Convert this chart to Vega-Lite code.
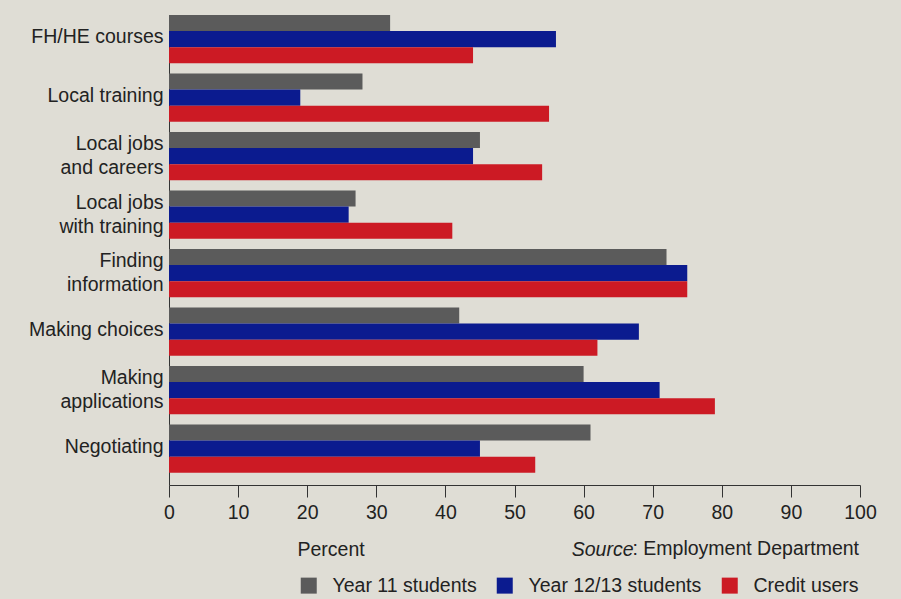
{
  "$schema": "https://vega.github.io/schema/vega-lite/v6.json",
  "width": 691,
  "height": 470,
  "autosize": {"type": "none"},
  "padding": {"left": 169, "top": 15, "right": 41, "bottom": 114},
  "background": "#dfddd5",
  "config": {
    "view": {"stroke": null},
    "font": "Liberation Sans",
    "axis": {"labelFont": "Liberation Sans", "titleFont": "Liberation Sans"},
    "legend": {"labelFont": "Liberation Sans", "titleFont": "Liberation Sans"},
    "title": {"font": "Liberation Sans"}
  },
  "data": {
    "values": [
      {"activity": "FH/HE courses", "group": "Year 11 students", "percent": 32},
      {"activity": "FH/HE courses", "group": "Year 12/13 students", "percent": 56},
      {"activity": "FH/HE courses", "group": "Credit users", "percent": 44},
      {"activity": "Local training", "group": "Year 11 students", "percent": 28},
      {"activity": "Local training", "group": "Year 12/13 students", "percent": 19},
      {"activity": "Local training", "group": "Credit users", "percent": 55},
      {"activity": "Local jobs and careers", "group": "Year 11 students", "percent": 45},
      {"activity": "Local jobs and careers", "group": "Year 12/13 students", "percent": 44},
      {"activity": "Local jobs and careers", "group": "Credit users", "percent": 54},
      {"activity": "Local jobs with training", "group": "Year 11 students", "percent": 27},
      {"activity": "Local jobs with training", "group": "Year 12/13 students", "percent": 26},
      {"activity": "Local jobs with training", "group": "Credit users", "percent": 41},
      {"activity": "Finding information", "group": "Year 11 students", "percent": 72},
      {"activity": "Finding information", "group": "Year 12/13 students", "percent": 75},
      {"activity": "Finding information", "group": "Credit users", "percent": 75},
      {"activity": "Making choices", "group": "Year 11 students", "percent": 42},
      {"activity": "Making choices", "group": "Year 12/13 students", "percent": 68},
      {"activity": "Making choices", "group": "Credit users", "percent": 62},
      {"activity": "Making applications", "group": "Year 11 students", "percent": 60},
      {"activity": "Making applications", "group": "Year 12/13 students", "percent": 71},
      {"activity": "Making applications", "group": "Credit users", "percent": 79},
      {"activity": "Negotiating", "group": "Year 11 students", "percent": 61},
      {"activity": "Negotiating", "group": "Year 12/13 students", "percent": 45},
      {"activity": "Negotiating", "group": "Credit users", "percent": 53}
    ]
  },
  "title": {
    "text": "Source",
    "orient": "bottom",
    "anchor": "end",
    "frame": "group",
    "dx": -226.5,
    "offset": -55,
    "fontSize": 19.5,
    "fontStyle": "italic",
    "fontWeight": "normal",
    "color": "#222222"
  },
  "mark": {"type": "bar"},
  "encoding": {
    "y": {
      "field": "activity",
      "type": "nominal",
      "sort": ["FH/HE courses", "Local training", "Local jobs and careers", "Local jobs with training", "Finding information", "Making choices", "Making applications", "Negotiating"],
      "scale": {"paddingInner": 0.176, "paddingOuter": 0.105, "align": 0},
      "axis": {
        "title": null,
        "ticks": false,
        "labelPadding": 6,
        "labelFontSize": 19.5,
        "labelColor": "#222222",
        "labelLineHeight": 24,
        "labelLimit": 200,
        "labelOffset": {
          "condition": {
            "test": "indexof(['Local jobs and careers', 'Local jobs with training', 'Finding information', 'Making applications'], datum.value) >= 0",
            "value": -12
          },
          "value": -2
        },
        "domainColor": "#333333",
        "domainWidth": 1,
        "labelExpr": "datum.label == 'Local jobs and careers' ? ['Local jobs', 'and careers'] : datum.label == 'Local jobs with training' ? ['Local jobs', 'with training'] : datum.label == 'Finding information' ? ['Finding', 'information'] : datum.label == 'Making applications' ? ['Making', 'applications'] : datum.label"
      }
    },
    "yOffset": {
      "field": "group",
      "sort": ["Year 11 students", "Year 12/13 students", "Credit users"],
      "scale": {"paddingInner": 0, "paddingOuter": 0}
    },
    "x": {
      "field": "percent",
      "type": "quantitative",
      "scale": {"domain": [0, 100], "nice": false},
      "axis": {
        "values": [0, 10, 20, 30, 40, 50, 60, 70, 80, 90, 100],
        "grid": false,
        "tickSize": 12,
        "tickColor": "#333333",
        "domainColor": "#333333",
        "labelFontSize": 19.5,
        "labelColor": "#222222",
        "labelPadding": 6,
        "labelFlush": false,
        "title": "Percent",
        "titleFontSize": 19.5,
        "titleFontWeight": "normal",
        "titleColor": "#222222",
        "titleAnchor": "start",
        "titleAlign": "left",
        "titleBaseline": "alphabetic",
        "titleX": 128,
        "titleY": 70
      }
    },
    "color": {
      "field": "group",
      "type": "nominal",
      "scale": {
        "domain": ["Year 11 students", "Year 12/13 students", "Credit users"],
        "range": ["#5b5b5b", "#0b1b8f", "#cc1a24"]
      },
      "legend": {
        "orient": "none",
        "direction": "horizontal",
        "legendX": 130,
        "legendY": 525,
        "padding": 0,
        "title": ": Employment Department",
        "titleOrient": "top",
        "titleAnchor": "end",
        "titleLimit": 500,
        "titleFontSize": 19.5,
        "titleFontWeight": "normal",
        "titleColor": "#222222",
        "titlePadding": 16,
        "symbolType": "square",
        "symbolSize": 256,
        "symbolOpacity": 1,
        "symbolStrokeWidth": 0,
        "labelFontSize": 19.5,
        "labelColor": "#222222",
        "labelOffset": 14,
        "columnPadding": 18,
        "labelLimit": 300
      }
    }
  }
}
